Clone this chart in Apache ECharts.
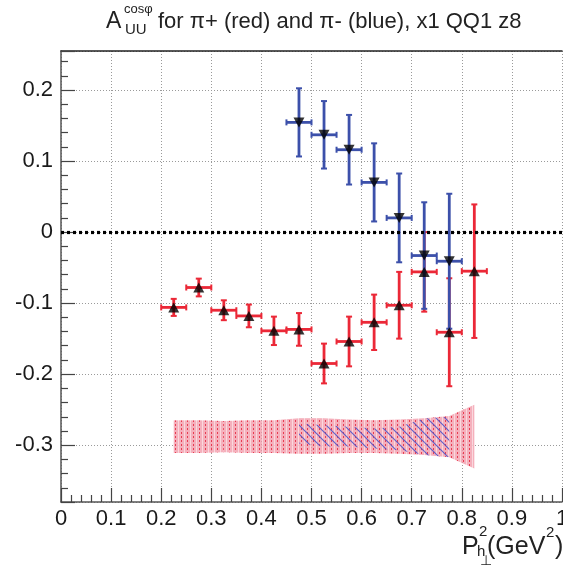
<!DOCTYPE html>
<html><head><meta charset="utf-8">
<script src="https://cdn.jsdelivr.net/npm/echarts@6/dist/echarts.min.js"></script>
<style>html,body{margin:0;padding:0;background:#fff}#c{width:563px;height:567px}</style>
</head><body><div id="c"></div>
<script>
// ---- data ----
const piPlusX    = [0.225,0.275,0.325,0.375,0.425,0.475,0.525,0.575,0.625,0.675,0.725,0.775,0.825];
const piPlusY    = [-0.106,-0.078,-0.110,-0.118,-0.139,-0.137,-0.185,-0.154,-0.127,-0.103,-0.056,-0.141,-0.055];
const piPlusErrY = [0.012,0.0125,0.014,0.016,0.020,0.023,0.028,0.035,0.039,0.047,0.056,0.076,0.094];
const piPlusErrX = [0.025,0.025,0.025,0.025,0.025,0.025,0.025,0.025,0.025,0.025,0.025,0.025,0.025];
const piPlusSysLo = [-0.311,-0.311,-0.310,-0.311,-0.311,-0.312,-0.312,-0.311,-0.311,-0.312,-0.314,-0.317,-0.333];
const piPlusSysHi = [-0.265,-0.265,-0.266,-0.265,-0.265,-0.262,-0.262,-0.264,-0.265,-0.264,-0.262,-0.259,-0.243];

const piMinusX    = [0.475,0.525,0.575,0.625,0.675,0.725,0.775];
const piMinusY    = [0.1545,0.137,0.116,0.070,0.020,-0.033,-0.041];
const piMinusErrY = [0.048,0.0475,0.049,0.055,0.0625,0.075,0.095];
const piMinusErrX = [0.025,0.025,0.025,0.025,0.025,0.025,0.025];
const piMinusSysLo = [-0.2975,-0.302,-0.302,-0.3045,-0.307,-0.314,-0.3165];
const piMinusSysHi = [-0.2695,-0.272,-0.274,-0.2765,-0.274,-0.2625,-0.260];

const xRange = [0, 1];
const yRange = [-0.38, 0.255];

// ---- styles ----
const FONT = 'Liberation Sans';
const RED = 'rgb(235,40,55)';
const BLUE = 'rgb(60,80,170)';

function makeRedPattern(){
  const c = document.createElement('canvas'); c.width = 6; c.height = 4;
  const g = c.getContext('2d');
  g.fillStyle = 'rgba(242,150,165,0.75)'; g.fillRect(0,0,6,4);
  g.fillStyle = 'rgba(230,40,65,0.85)'; g.fillRect(1,0,1,2);
  g.fillStyle = 'rgba(255,255,255,0.5)'; g.fillRect(4,0,1,4);
  return c;
}
function makeBluePattern(){
  const c = document.createElement('canvas'); c.width = 9; c.height = 9;
  const g = c.getContext('2d');
  g.strokeStyle = 'rgba(70,80,200,0.85)'; g.lineWidth = 1.2;
  g.beginPath(); g.moveTo(-1,-1); g.lineTo(10,10); g.moveTo(-1,8); g.lineTo(1,10); g.moveTo(8,-1); g.lineTo(10,1); g.stroke();
  return c;
}
const redPat = {image: makeRedPattern(), repeat: 'repeat'};
const bluePat = {image: makeBluePattern(), repeat: 'repeat'};

function bandSeries(xs, lo, hi, fill, z){
  return {
    type: 'custom', z: z, silent: true, clip: true,
    data: xs.map((x,i)=>[x, lo[i], hi[i]]),
    encode: {x: 0, y: [1,2]},
    renderItem: function(params, api){
      const i = params.dataIndex;
      if (i >= xs.length - 1) return {type:'group', children:[]};
      const a = api.coord([xs[i], lo[i]]), b = api.coord([xs[i+1], lo[i+1]]);
      const c = api.coord([xs[i+1], hi[i+1]]), d = api.coord([xs[i], hi[i]]);
      return {type:'polygon', shape:{points:[a,b,c,d]}, style:{fill: fill, stroke: null}};
    }
  };
}

function errSeries(xs, ys, ex, ey, color, z){
  return {
    type: 'custom', z: z, silent: true,
    data: xs.map((x,i)=>[x, ys[i], ex[i], ey[i]]),
    encode: {x: 0, y: 1},
    renderItem: function(params, api){
      const x = api.value(0), y = api.value(1), dx = api.value(2), dy = api.value(3);
      const c = api.coord([x,y]);
      const l = api.coord([x-dx,y]), r = api.coord([x+dx,y]);
      const t = api.coord([x,y+dy]), b = api.coord([x,y-dy]);
      const st = {stroke: color, lineWidth: 2.8, fill: null};
      const cs = {stroke: color, lineWidth: 2, fill: null};
      const h = 3;
      return {type:'group', children:[
        {type:'line', shape:{x1:l[0],y1:c[1],x2:r[0],y2:c[1]}, style:st},
        {type:'line', shape:{x1:c[0],y1:t[1],x2:c[0],y2:b[1]}, style:st},
        {type:'line', shape:{x1:l[0],y1:c[1]-h,x2:l[0],y2:c[1]+h}, style:cs},
        {type:'line', shape:{x1:r[0],y1:c[1]-h,x2:r[0],y2:c[1]+h}, style:cs},
        {type:'line', shape:{x1:c[0]-h,y1:t[1],x2:c[0]+h,y2:t[1]}, style:cs},
        {type:'line', shape:{x1:c[0]-h,y1:b[1],x2:c[0]+h,y2:b[1]}, style:cs}
      ]};
    }
  };
}

const gridLine = {show:true, lineStyle:{color:'#9a9a9a', type:[1,2], width:1}};
const tickStyle = {color:'#444', width:1.2};

const chart = echarts.init(document.getElementById('c'));
chart.setOption({
  animation: false,
  backgroundColor: '#fff',
  grid: {left: 61, right: 1, top: 51, bottom: 65, containLabel: false, outerBoundsMode: 'none'},
  xAxis: [{
    type:'value', min:xRange[0], max:xRange[1], interval:0.1, position:'bottom',
    axisLine:{show:true, onZero:false, lineStyle:{color:'#555', width:1.5}},
    axisTick:{show:true, inside:true, length:14, lineStyle:tickStyle},
    minorTick:{show:true, splitNumber:5, length:7, lineStyle:tickStyle},
    axisLabel:{fontFamily:FONT, fontSize:22, color:'#1a1a1a', margin:6},
    splitLine: gridLine
  },{
    type:'value', min:xRange[0], max:xRange[1], position:'top',
    axisLine:{show:true, onZero:false, lineStyle:{color:'#222', width:1.5}},
    axisTick:{show:false}, axisLabel:{show:false}, splitLine:{show:false}
  }],
  yAxis: {
    type:'value', min:yRange[0], max:yRange[1], splitNumber:6,
    axisLine:{show:true, onZero:false, lineStyle:{color:'#555', width:1.5}},
    axisTick:{show:true, inside:true, length:14, lineStyle:tickStyle},
    minorTick:{show:true, splitNumber:5, length:7, lineStyle:tickStyle},
    axisLabel:{fontFamily:FONT, fontSize:22, color:'#1a1a1a', margin:8, showMinLabel:false, showMaxLabel:false},
    splitLine: gridLine
  },
  series: [
    Object.assign(bandSeries(piPlusX, piPlusSysLo, piPlusSysHi, redPat, 1), {
      markLine:{silent:true, symbol:'none', label:{show:false},
        lineStyle:{color:'#000', type:[3,3], width:3.2}, data:[{yAxis:0}]}
    }),
    bandSeries(piMinusX, piMinusSysLo, piMinusSysHi, bluePat, 2),
    errSeries(piPlusX, piPlusY, piPlusErrX, piPlusErrY, RED, 3),
    errSeries(piMinusX, piMinusY, piMinusErrX, piMinusErrY, BLUE, 4),
    {type:'scatter', z:5, silent:true, symbol:'triangle', symbolSize:[11,10],
      itemStyle:{color:'#000'}, data: piPlusX.map((x,i)=>[x, piPlusY[i]])},
    {type:'scatter', z:6, silent:true, symbol:'triangle', symbolRotate:180, symbolSize:[11,10],
      itemStyle:{color:'#000'}, data: piMinusX.map((x,i)=>[x, piMinusY[i]])}
  ],
  graphic: [
    {type:'text', x:106, y:22, style:{text:'A', font:'23px "Liberation Sans"', fill:'#222', verticalAlign:'middle'}},
    {type:'text', x:124, y:9, style:{text:'cosφ', font:'13px "Liberation Sans"', fill:'#222', verticalAlign:'middle'}},
    {type:'text', x:125, y:30, style:{text:'UU', font:'15px "Liberation Sans"', fill:'#222', verticalAlign:'middle'}},
    {type:'text', x:158, y:22, style:{text:'for π+ (red) and π- (blue), x1 QQ1 z8', font:'22px "Liberation Sans"', fill:'#222', verticalAlign:'middle'}},
    {type:'text', x:462, y:547, style:{text:'P', font:'25px "Liberation Sans"', fill:'#222', verticalAlign:'middle'}},
    {type:'text', x:479, y:532, style:{text:'2', font:'15px "Liberation Sans"', fill:'#222', verticalAlign:'middle'}},
    {type:'text', x:477, y:552, style:{text:'h', font:'15px "Liberation Sans"', fill:'#222', verticalAlign:'middle'}},
    {type:'text', x:480, y:561, style:{text:'⊥', font:'14px "DejaVu Sans"', fill:'#222', verticalAlign:'middle'}},
    {type:'text', x:487, y:547, style:{text:'(GeV', font:'25px "Liberation Sans"', fill:'#222', verticalAlign:'middle'}},
    {type:'text', x:546, y:533, style:{text:'2', font:'15px "Liberation Sans"', fill:'#222', verticalAlign:'middle'}},
    {type:'text', x:555, y:547, style:{text:')', font:'25px "Liberation Sans"', fill:'#222', verticalAlign:'middle'}}
  ]
});
</script>
</body></html>
